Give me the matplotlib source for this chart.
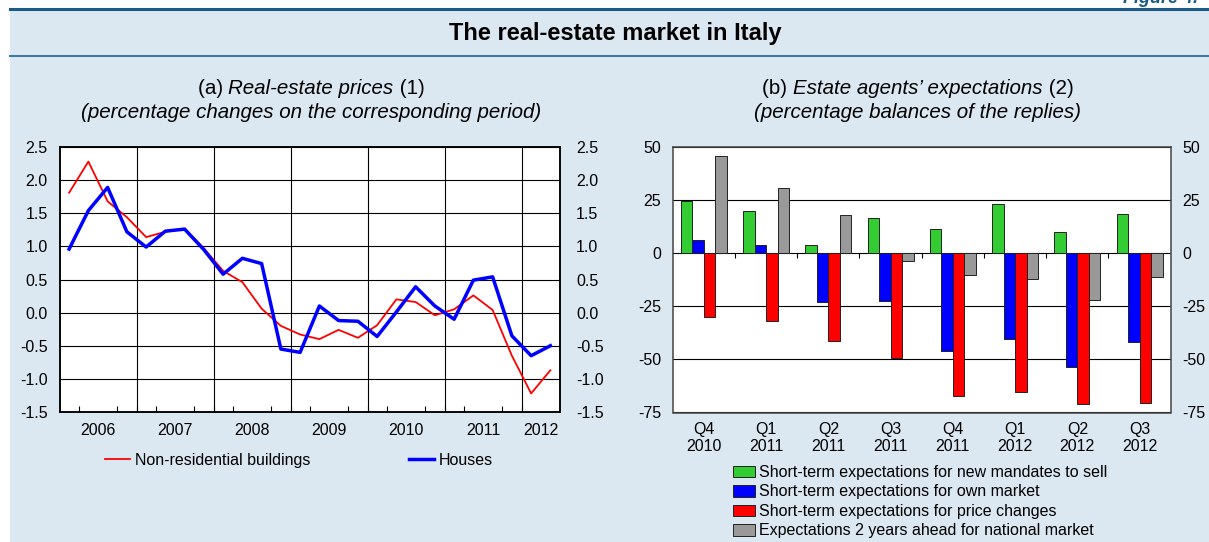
import matplotlib
matplotlib.use("Agg")
import matplotlib.pyplot as plt
import numpy as np
from matplotlib.lines import Line2D
from matplotlib.patches import Rectangle
from matplotlib.ticker import FormatStrFormatter

plt.rcParams["font.family"] = ["Liberation Sans", "DejaVu Sans"]
plt.rcParams["axes.unicode_minus"] = False

# panel (a): quarterly real-estate prices, 2006 Q1 - 2012 Q2
years = ["2006", "2007", "2008", "2009", "2010", "2011", "2012"]
non_residential = [1.81, 2.28, 1.68, 1.44, 1.14, 1.22, 1.27, 0.97, 0.63, 0.46,
                   0.06, -0.20, -0.33, -0.40, -0.26, -0.38, -0.19, 0.20, 0.16,
                   -0.04, 0.05, 0.26, 0.04, -0.65, -1.22, -0.87]
houses = [0.96, 1.54, 1.89, 1.22, 0.99, 1.23, 1.26, 0.95, 0.58, 0.82, 0.74,
          -0.55, -0.60, 0.10, -0.12, -0.13, -0.36, 0.01, 0.39, 0.10, -0.10,
          0.49, 0.54, -0.35, -0.65, -0.50]

# panel (b): estate agents' expectations, balances of replies
quarters = ["Q4\n2010", "Q1\n2011", "Q2\n2011", "Q3\n2011",
            "Q4\n2011", "Q1\n2012", "Q2\n2012", "Q3\n2012"]
new_mandates = [24.8, 20.2, 3.8, 16.5, 11.3, 23.1, 10.1, 18.5]
own_market = [6.3, 3.9, -22.8, -22.3, -45.9, -40.2, -53.7, -41.6]
price_changes = [-30.2, -31.9, -41.1, -49.2, -67.4, -65.3, -71.1, -70.7]
national_2y = [45.7, 30.9, 18.2, -3.6, -10.0, -11.9, -22.1, -11.3]

BG = "#dce8f1"
DARK = "#1b5a86"
W, H = 1209, 542
TICK = 11.5

fig = plt.figure(figsize=(W / 100, H / 100), dpi=100)
fig.patch.set_facecolor("white")

# panel background and header rules
fig.patches.append(Rectangle((10 / W, 0), 1 - 10 / W, 1 - 9 / H,
                             transform=fig.transFigure, facecolor=BG,
                             edgecolor="none", zorder=-10))
fig.lines.append(Line2D([10 / W, 1], [1 - 9 / H] * 2, transform=fig.transFigure,
                        color=DARK, lw=2.2))
fig.lines.append(Line2D([10 / W, 1], [1 - 56 / H] * 2, transform=fig.transFigure,
                        color="#3f7aa6", lw=1.5))
fig.text(1123 / W, 1 - 3 / H, "Figure 4.", color=DARK, fontsize=13,
         weight="bold", style="italic", va="baseline")
fig.text(615 / W, 1 - 33.5 / H, "The real-estate market in Italy", fontsize=17,
         weight="bold", ha="center", va="center")


def mixed_line(x_px, y_px, parts, size=14.8):
    """Centre a line made of regular/italic pieces at (x_px, y_px)."""
    renderer = fig.canvas.get_renderer()
    texts = [fig.text(0, 1 - y_px / H, s, style=st, fontsize=size, va="center")
             for s, st in parts]
    widths = [t.get_window_extent(renderer).width for t in texts]
    left = x_px - sum(widths) / 2
    for t, w in zip(texts, widths):
        t.set_x(left / W)
        left += w


mixed_line(311, 88, [("(a) ", "normal"), ("Real-estate prices", "italic"), (" (1)", "normal")])
mixed_line(311, 113, [("(percentage changes on the corresponding period)", "italic")])
mixed_line(918, 88, [("(b) ", "normal"), ("Estate agents\u2019 expectations", "italic"), (" (2)", "normal")])
mixed_line(918, 113, [("(percentage balances of the replies)", "italic")])

# ---- panel (a)
ax1 = fig.add_axes([59.5 / W, 1 - 412 / H, 500.5 / W, 265 / H])
n = len(houses)
x = np.arange(n) + 0.5
ax1.plot(x, non_residential, color="red", lw=1.3, zorder=3)
ax1.plot(x, houses, color="blue", lw=2.5, zorder=3)
ax1.set_xlim(0, n)
ax1.set_ylim(-1.5, 2.5)
yt = np.arange(-1.5, 2.51, 0.5)
ax1.set_yticks(yt)
ax1.yaxis.set_major_formatter(FormatStrFormatter("%.1f"))
ax1.tick_params(axis="y", length=0, labelsize=TICK, pad=8.5)
ax1.grid(axis="y", color="black", lw=0.8)

ax1r = ax1.twinx()
ax1r.set_ylim(-1.5, 2.5)
ax1r.set_yticks(yt)
ax1r.yaxis.set_major_formatter(FormatStrFormatter("%.1f"))
ax1r.tick_params(axis="y", length=0, labelsize=TICK, pad=11.5)

year_start = np.arange(0, n, 4)
year_centres = [(s + min(s + 4, n)) / 2 for s in year_start]
ax1.set_xticks(year_centres, years)
ax1.set_xticks(np.arange(1, n), minor=True)
ax1.tick_params(axis="x", which="major", length=0, pad=8, labelsize=TICK)
ax1.tick_params(axis="x", which="minor", direction="in", length=4, width=0.8)
for s in year_start[1:]:
    ax1.axvline(s, color="black", lw=0.8)
for a in (ax1, ax1r):
    for sp in a.spines.values():
        sp.set_linewidth(1.1)

fig.legend(handles=[Line2D([], [], color="red", lw=1.3),
                    Line2D([], [], color="blue", lw=2.5)],
           labels=["Non-residential buildings", "Houses"],
           ncol=2, loc="upper left", bbox_to_anchor=(105 / W, 1 - 453 / H),
           frameon=False, fontsize=TICK, handlelength=1.55, handletextpad=0.3,
           columnspacing=6.2, borderpad=0, borderaxespad=0)

# ---- panel (b)
ax2 = fig.add_axes([672.7 / W, 1 - 412.5 / H, 498 / W, 265.2 / H])
g = np.arange(len(quarters))
w = 0.185
series = [
    (new_mandates, "#33cc33", "Short-term expectations for new mandates to sell"),
    (own_market, "#0000ff", "Short-term expectations for own market"),
    (price_changes, "#ff0000", "Short-term expectations for price changes"),
    (national_2y, "#999999", "Expectations 2 years ahead for national market"),
]
bars = []
for k, (vals, col, lab) in enumerate(series):
    bars.append(ax2.bar(g + (k - 1.5) * w, vals, w, color=col, edgecolor="#222222",
                        lw=0.7, label=lab, zorder=3))
ax2.set_xlim(-0.5, len(quarters) - 0.5)
ax2.set_ylim(-75, 50)
ax2.set_yticks([-75, -50, -25, 0, 25, 50])
ax2.tick_params(axis="y", length=0, labelright=True, labelsize=TICK, pad=8.5)
ax2.grid(axis="y", color="black", lw=0.8, zorder=1)
ax2.set_axisbelow(True)
ax2.set_xticks(g, quarters)
ax2.tick_params(axis="x", length=0, pad=6.5, labelsize=TICK)
for t in ax2.get_xticklabels():
    t.set_linespacing(1.22)
bounds = np.append(g[1:] - 0.5, g[-1] + 0.5)
ax2.vlines(bounds, -2.2, 0, color="black", lw=0.8, zorder=2)
for sp in ax2.spines.values():
    sp.set_linewidth(1.1)
    sp.set_color("#444444")

fig.legend(handles=bars, loc="upper left", bbox_to_anchor=(733 / W, 1 - 465 / H),
           frameon=False, fontsize=TICK, handlelength=1.4, handleheight=0.75,
           handletextpad=0.2, labelspacing=0.28, borderpad=0, borderaxespad=0)

fig.savefig("out.png", dpi=100, facecolor=fig.get_facecolor())
